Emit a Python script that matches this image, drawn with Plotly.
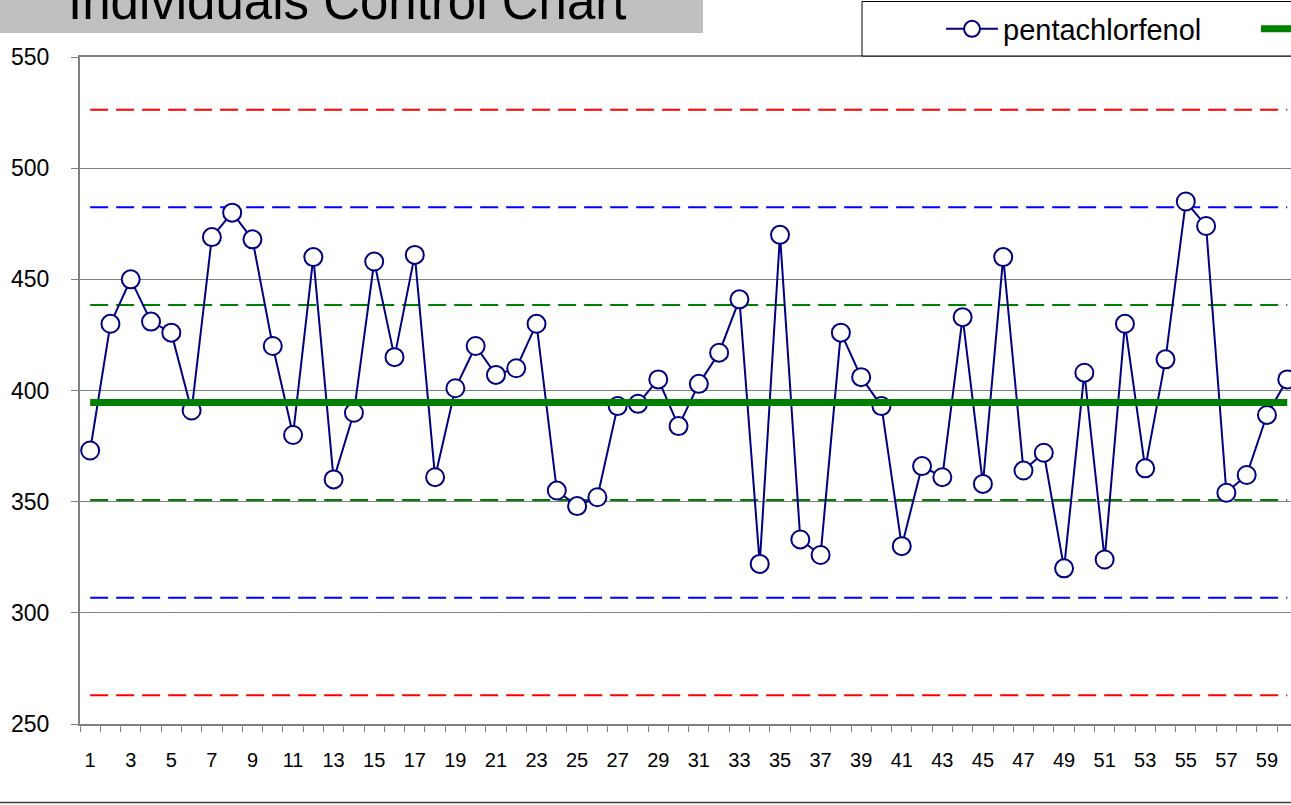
import plotly.graph_objects as go

# ---- data ----
samples = list(range(1, 61))
pentachlorfenol = [373, 430, 450, 431, 426, 391, 469, 480, 468, 420,
                   380, 460, 360, 390, 458, 415, 461, 361, 401, 420,
                   407, 410, 430, 355, 348, 352, 393, 394, 405, 384,
                   403, 417, 441, 322, 470, 333, 326, 426, 406, 393,
                   330, 366, 361, 433, 358, 460, 364, 372, 320, 408,
                   324, 430, 365, 414, 485, 474, 354, 362, 389, 405]
center_line = 394.6
sigma = 43.9
x_tick_vals = list(range(1, 61, 2))
y_tick_vals = [250, 300, 350, 400, 450, 500, 550]

W, H = 1291, 805
L, R, T, B = 80, 1291, 57, 724
PW, PH = R - L, B - T
CAT_W = 20.29


def px_x(p):
    return (p - L) / PW


def px_y(p):
    return (B - p) / PH


FONT = "Liberation Sans, Arial, sans-serif"
NAVY = "#000080"
GREEN = "#008000"

fig = go.Figure()

limits = [
    (center_line + 3 * sigma, "#FF0000"),
    (center_line - 3 * sigma, "#FF0000"),
    (center_line + 2 * sigma, "#0000FF"),
    (center_line - 2 * sigma, "#0000FF"),
    (center_line + 1 * sigma, GREEN),
    (center_line - 1 * sigma, GREEN),
]
for val, col in limits:
    fig.add_trace(go.Scatter(
        x=samples, y=[val] * len(samples), mode="lines",
        line=dict(color=col, width=2, dash="18px,8px"),
        showlegend=False, hoverinfo="skip"))

fig.add_trace(go.Scatter(
    x=samples, y=pentachlorfenol, mode="lines+markers", name="pentachlorfenol",
    line=dict(color=NAVY, width=2),
    marker=dict(size=18, color="white", line=dict(color=NAVY, width=2)),
    legendrank=1))

fig.add_trace(go.Scatter(
    x=samples, y=[center_line] * len(samples), mode="lines", name="Mean",
    line=dict(color=GREEN, width=7), legendrank=2))

shapes = [
    # black line at 400
    dict(type="line", xref="paper", yref="y", x0=0, x1=1, y0=400, y1=400,
         line=dict(color="black", width=1), layer="below"),
    # title box
    dict(type="rect", xref="paper", yref="paper",
         x0=px_x(-2), x1=px_x(703), y0=px_y(33), y1=px_y(-5),
         fillcolor="#C0C0C0", line=dict(width=0), layer="above"),
    # legend box
    dict(type="rect", xref="paper", yref="paper",
         x0=px_x(862), x1=px_x(1300), y0=px_y(56), y1=px_y(1.5),
         fillcolor="white", line=dict(color="black", width=1), layer="above"),
    # bottom chart border
    dict(type="line", xref="paper", yref="paper",
         x0=px_x(-2), x1=px_x(1300), y0=px_y(802.5), y1=px_y(802.5),
         line=dict(color="#404040", width=1.5), layer="above"),
]

fig.update_layout(
    width=W, height=H,
    margin=dict(l=L, r=W - R, t=T, b=H - B, pad=0, autoexpand=False),
    paper_bgcolor="white", plot_bgcolor="white",
    font=dict(family=FONT, color="black"),
    shapes=shapes,
    showlegend=True,
    legend=dict(orientation="h", xref="paper", yref="paper",
                x=px_x(941), y=px_y(29), xanchor="left", yanchor="middle",
                bgcolor="rgba(0,0,0,0)", borderwidth=0,
                font=dict(family=FONT, size=29, color="black"),
                itemwidth=52, entrywidth=248, traceorder="normal"),
    annotations=[dict(text="Individuals Control Chart", xref="paper", yref="paper",
                      x=px_x(347), y=px_y(1), xanchor="center", yanchor="middle",
                      showarrow=False, font=dict(family=FONT, size=51, color="black"))],
    xaxis=dict(range=[0.5, 0.5 + PW / CAT_W], tickmode="array", tickvals=x_tick_vals,
               ticktext=[str(v) for v in x_tick_vals], ticks="", showgrid=False,
               zeroline=False, showline=True, linecolor="#808080", linewidth=2,
               mirror=True, tickfont=dict(size=20, family=FONT, color="black"),
               ticklabelstandoff=17,
               minor=dict(tickmode="linear", tick0=0.5, dtick=1, ticks="outside",
                          ticklen=6, tickcolor="#808080", tickwidth=1, showgrid=False)),
    yaxis=dict(range=[250, 550], tickmode="array", tickvals=y_tick_vals,
               ticks="outside", ticklen=7, tickcolor="#808080", tickwidth=1,
               showgrid=True, gridcolor="#808080", gridwidth=1,
               zeroline=False, showline=True, linecolor="#808080", linewidth=2,
               tickfont=dict(size=23, family=FONT, color="black"),
               ticklabelstandoff=17),
)

fig.write_html("out.html", config={"displayModeBar": False},
               post_script="document.body.style.margin='0';")
